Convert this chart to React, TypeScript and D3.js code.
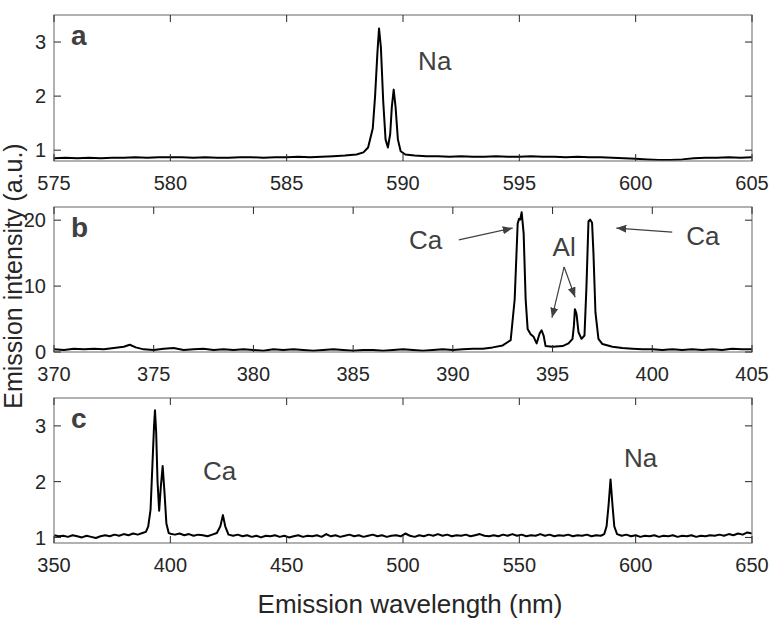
import React from "react";
import * as d3 from "d3";

// panel a: Na doublet region, [wavelength nm, intensity a.u.]
const naSpectrum: [number, number][] = [
  [575, 0.85], [575.5, 0.86], [576, 0.85], [576.5, 0.86], [577, 0.85], [577.5, 0.86],
  [578, 0.86], [578.5, 0.87], [579, 0.86], [579.5, 0.87], [580, 0.87], [580.5, 0.87],
  [581, 0.86], [581.5, 0.87], [582, 0.86], [582.5, 0.86], [583, 0.87], [583.5, 0.87],
  [584, 0.86], [584.5, 0.87], [585, 0.87], [585.5, 0.88], [586, 0.87], [586.5, 0.88],
  [587, 0.89], [587.5, 0.9], [588, 0.92], [588.3, 0.96], [588.5, 1.05], [588.7, 1.4],
  [588.8, 2.0], [588.9, 2.8], [588.97, 3.25], [589.05, 2.9], [589.15, 1.9], [589.25, 1.2],
  [589.35, 1.05], [589.45, 1.3], [589.52, 1.8], [589.6, 2.12], [589.68, 1.8], [589.78, 1.2],
  [589.9, 0.98], [590.1, 0.92], [590.5, 0.9], [591, 0.89], [591.5, 0.89], [592, 0.88],
  [592.5, 0.89], [593, 0.88], [593.5, 0.88], [594, 0.89], [594.5, 0.88], [595, 0.88],
  [595.5, 0.89], [596, 0.88], [596.5, 0.88], [597, 0.87], [597.5, 0.88], [598, 0.87],
  [598.5, 0.87], [599, 0.86], [599.5, 0.85], [600, 0.84], [600.5, 0.83], [601, 0.82],
  [601.5, 0.82], [602, 0.83], [602.5, 0.85], [603, 0.86], [603.5, 0.86], [604, 0.87],
  [604.5, 0.86], [605, 0.87],
];

// panel b: Ca / Al region
const caAlSpectrum: [number, number][] = [
  [370, 0.4], [370.5, 0.3], [371, 0.5], [371.5, 0.4], [372, 0.5], [372.5, 0.4],
  [373, 0.6], [373.5, 0.8], [373.8, 1.1], [374.1, 0.7], [374.5, 0.4], [375, 0.3],
  [375.5, 0.5], [376, 0.6], [376.5, 0.3], [377, 0.4], [377.5, 0.5], [378, 0.3],
  [378.5, 0.4], [379, 0.3], [379.5, 0.4], [380, 0.3], [380.5, 0.2], [381, 0.4],
  [381.5, 0.3], [382, 0.4], [382.5, 0.3], [383, 0.2], [383.5, 0.3], [384, 0.4],
  [384.5, 0.3], [385, 0.2], [385.5, 0.3], [386, 0.3], [386.5, 0.2], [387, 0.3],
  [387.5, 0.4], [388, 0.3], [388.5, 0.2], [389, 0.3], [389.5, 0.4], [390, 0.3],
  [390.5, 0.4], [391, 0.5], [391.5, 0.5], [392, 0.7], [392.5, 1.0], [392.9, 1.8],
  [393.1, 8], [393.25, 19.5], [393.32, 20.2], [393.38, 20.1], [393.45, 21.2],
  [393.55, 18], [393.65, 8], [393.75, 3.5], [393.9, 2.7], [394.05, 2.3], [394.2, 1.3],
  [394.35, 2.8], [394.45, 3.3], [394.55, 2.5], [394.65, 0.9], [395, 0.8], [395.5, 0.9],
  [395.8, 1.3], [396.0, 2.0], [396.07, 4], [396.12, 6.5], [396.2, 5.8], [396.3, 3],
  [396.45, 2.0], [396.6, 2.5], [396.7, 10], [396.8, 19.8], [396.88, 20.1],
  [396.98, 19.6], [397.05, 15], [397.15, 6], [397.3, 2], [397.5, 1.2], [398, 0.8],
  [398.5, 0.6], [399, 0.5], [399.5, 0.4], [400, 0.4], [400.5, 0.3], [401, 0.4],
  [401.5, 0.3], [402, 0.4], [402.5, 0.3], [403, 0.4], [403.5, 0.3], [404, 0.5],
  [404.5, 0.4], [405, 0.4],
];

// panel c: full range
const fullSpectrum: [number, number][] = [
  [350, 1.04], [352, 1.02], [354, 1.03], [356, 1.01], [358, 1.04], [360, 1.02],
  [362, 1.0], [364, 1.03], [366, 1.01], [368, 0.99], [370, 1.02], [372, 1.04],
  [374, 1.02], [376, 1.05], [378, 1.03], [380, 1.06], [382, 1.04], [384, 1.07],
  [386, 1.05], [388, 1.08], [389.5, 1.1], [390.5, 1.2], [391.5, 1.5], [392.3, 2.3],
  [393, 3.0], [393.4, 3.28], [393.9, 2.9], [394.5, 2.0], [395.2, 1.48], [395.9, 1.9],
  [396.7, 2.28], [397.5, 1.8], [398.3, 1.25], [399.3, 1.08], [400.5, 1.06], [402, 1.05],
  [404, 1.07], [406, 1.04], [408, 1.06], [410, 1.03], [412, 1.05], [414, 1.04],
  [416, 1.02], [418, 1.05], [420, 1.08], [421.5, 1.2], [422.6, 1.4], [423.6, 1.2],
  [425, 1.05], [427, 1.03], [429, 1.05], [431, 1.02], [433, 1.04], [435, 1.01],
  [437, 1.03], [439, 1.0], [441, 1.03], [443, 1.02], [445, 1.04], [447, 1.01],
  [449, 1.03], [451, 1.0], [453, 1.02], [455, 1.04], [457, 1.01], [459, 1.03],
  [461, 1.02], [463, 1.04], [465, 1.01], [467, 1.06], [469, 1.02], [471, 1.04],
  [473, 1.01], [475, 1.03], [477, 1.05], [479, 1.02], [481, 1.04], [483, 1.01],
  [485, 1.03], [487, 1.05], [489, 1.02], [491, 1.04], [493, 1.01], [495, 1.03],
  [497, 1.04], [499, 1.02], [501, 1.07], [503, 1.03], [505, 1.01], [507, 1.04],
  [509, 1.02], [511, 1.05], [513, 1.03], [515, 1.06], [517, 1.03], [519, 1.05],
  [521, 1.02], [523, 1.04], [525, 1.03], [527, 1.05], [529, 1.02], [531, 1.04],
  [533, 1.06], [535, 1.03], [537, 1.02], [539, 1.04], [541, 1.02], [543, 1.05],
  [545, 1.03], [547, 1.06], [549, 1.03], [551, 1.05], [553, 1.02], [555, 1.04],
  [557, 1.03], [559, 1.06], [561, 1.03], [563, 1.05], [565, 1.02], [567, 1.04],
  [569, 1.03], [571, 1.05], [573, 1.02], [575, 1.04], [577, 1.03], [579, 1.05],
  [581, 1.02], [583, 1.04], [585, 1.03], [586.5, 1.06], [587.5, 1.2], [588.4, 1.6],
  [589.2, 2.04], [590, 1.6], [590.8, 1.2], [592, 1.06], [594, 1.03], [596, 1.05],
  [598, 1.02], [600, 1.04], [602, 1.01], [604, 1.03], [606, 1.02], [608, 1.04],
  [610, 1.01], [612, 1.03], [614, 1.02], [616, 1.04], [618, 1.01], [620, 1.03],
  [622, 1.02], [624, 1.04], [626, 1.01], [628, 1.03], [630, 1.02], [632, 1.04],
  [634, 1.03], [636, 1.05], [638, 1.03], [640, 1.06], [642, 1.04], [644, 1.07],
  [646, 1.05], [648, 1.09], [650, 1.07],
];

const xTicksA = [575, 580, 585, 590, 595, 600, 605];
const yTicksA = [1, 2, 3];
const xTicksB = [370, 375, 380, 385, 390, 395, 400, 405];
const yTicksB = [0, 10, 20];
const xTicksC = [350, 400, 450, 500, 550, 600, 650];
const yTicksC = [1, 2, 3];

const W = 771, H = 619;
const left = 54, right = 752;
const font = "'Liberation Sans', Arial, Helvetica, sans-serif";
const textColor = "#262626";
const labelColor = "#404040";

type PanelProps = {
  data: [number, number][];
  xDomain: [number, number];
  yDomain: [number, number];
  xTicks: number[];
  yTicks: number[];
  top: number;
  bottom: number;
  letter: string;
  children?: (x: d3.ScaleLinear<number, number>, y: d3.ScaleLinear<number, number>) => React.ReactNode;
};

function Panel({ data, xDomain, yDomain, xTicks, yTicks, top, bottom, letter, children }: PanelProps) {
  const x = d3.scaleLinear().domain(xDomain).range([left, right]);
  const y = d3.scaleLinear().domain(yDomain).range([bottom, top]);
  const line = d3.line<[number, number]>().x(d => x(d[0])).y(d => y(d[1]));
  const tl = 7;
  return (
    <g>
      <path d={line(data) || ""} fill="none" stroke="#000" strokeWidth={2} strokeLinejoin="round" />
      <rect x={left} y={top} width={right - left} height={bottom - top} fill="none" stroke="#7f7f7f" strokeWidth={1.2} />
      {xTicks.map(t => (
        <g key={"x" + t}>
          <line x1={x(t)} x2={x(t)} y1={bottom} y2={bottom - tl} stroke="#262626" strokeWidth={1} />
          <line x1={x(t)} x2={x(t)} y1={top} y2={top + tl} stroke="#262626" strokeWidth={1} />
          <text x={x(t)} y={bottom + 29} textAnchor="middle" fontSize={20} fill={textColor} fontFamily={font}>{t}</text>
        </g>
      ))}
      {yTicks.map(t => (
        <g key={"y" + t}>
          <line x1={left} x2={left + tl} y1={y(t)} y2={y(t)} stroke="#262626" strokeWidth={1} />
          <line x1={right} x2={right - tl} y1={y(t)} y2={y(t)} stroke="#262626" strokeWidth={1} />
          <text x={left - 8} y={y(t)} dy="0.36em" textAnchor="end" fontSize={20} fill={textColor} fontFamily={font}>{t}</text>
        </g>
      ))}
      <text x={71} y={top + 30} fontSize={28} fontWeight="bold" fill={labelColor} fontFamily={font}>{letter}</text>
      {children && children(x, y)}
    </g>
  );
}

export default function App() {
  const tA = 15, bA = 161, tB = 207, bB = 352, tC = 398, bC = 543;
  return (
    <svg width={W} height={H} style={{ position: "absolute", left: 0, top: 0, background: "#fff" }}>
      <defs>
        <marker id="arrow" viewBox="0 0 10 10" refX={10} refY={5} markerWidth={10} markerHeight={10} orient="auto" markerUnits="userSpaceOnUse">
          <path d="M0,1 L10,5 L0,9 z" fill={labelColor} />
        </marker>
      </defs>
      <Panel data={naSpectrum} xDomain={[575, 605]} yDomain={[0.8, 3.5]} xTicks={xTicksA} yTicks={yTicksA} top={tA} bottom={bA} letter="a">
        {(x, y) => (
          <text x={x(590.65)} y={y(2.48)} fontSize={26} fill={labelColor} fontFamily={font}>Na</text>
        )}
      </Panel>
      <Panel data={caAlSpectrum} xDomain={[370, 405]} yDomain={[0, 22]} xTicks={xTicksB} yTicks={yTicksB} top={tB} bottom={bB} letter="b">
        {(x, y) => (
          <g>
            <text x={x(387.8)} y={y(15.7)} fontSize={26} fill={labelColor} fontFamily={font}>Ca</text>
            <line x1={x(390.3)} y1={y(17.0)} x2={x(393.0)} y2={y(18.8)} stroke={labelColor} strokeWidth={1.2} markerEnd="url(#arrow)" />
            <text x={x(401.7)} y={y(16.2)} fontSize={26} fill={labelColor} fontFamily={font}>Ca</text>
            <line x1={x(401.0)} y1={y(18.2)} x2={x(398.2)} y2={y(18.8)} stroke={labelColor} strokeWidth={1.2} markerEnd="url(#arrow)" />
            <text x={x(395.0)} y={y(14.6)} fontSize={26} fill={labelColor} fontFamily={font}>Al</text>
            <line x1={x(395.58)} y1={y(12.9)} x2={x(394.97)} y2={y(5.2)} stroke={labelColor} strokeWidth={1.2} markerEnd="url(#arrow)" />
            <line x1={x(395.58)} y1={y(12.9)} x2={x(396.13)} y2={y(8.3)} stroke={labelColor} strokeWidth={1.2} markerEnd="url(#arrow)" />
          </g>
        )}
      </Panel>
      <Panel data={fullSpectrum} xDomain={[350, 650]} yDomain={[0.9, 3.5]} xTicks={xTicksC} yTicks={yTicksC} top={tC} bottom={bC} letter="c">
        {(x, y) => (
          <g>
            <text x={x(414)} y={y(2.03)} fontSize={26} fill={labelColor} fontFamily={font}>Ca</text>
            <text x={x(595)} y={y(2.26)} fontSize={26} fill={labelColor} fontFamily={font}>Na</text>
          </g>
        )}
      </Panel>
      <text x={410} y={613} textAnchor="middle" fontSize={26} fill={textColor} fontFamily={font}>Emission wavelength (nm)</text>
      <text transform="translate(22,276) rotate(-90)" textAnchor="middle" fontSize={25} fill={textColor} fontFamily={font}>Emission intensity (a.u.)</text>
    </svg>
  );
}
